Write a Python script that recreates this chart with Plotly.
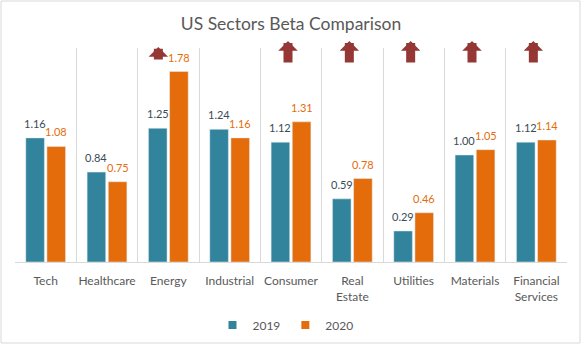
import plotly.graph_objects as go

categories = ["Tech", "Healthcare", "Energy", "Industrial", "Consumer",
              "Real<br>Estate", "Utilities", "Materials", "Financial<br>Services"]
beta_2019 = [1.16, 0.84, 1.25, 1.24, 1.12, 0.59, 0.29, 1.00, 1.12]
beta_2020 = [1.08, 0.75, 1.78, 1.16, 1.31, 0.78, 0.46, 1.05, 1.14]
series_names = ["2019", "2020"]

C19 = "#31849B"
C20 = "#E46C0A"
ARROW = "#953735"
FONT = "Lato"

W, H = 582, 345
ML, MR, MT, MB = 15, 15, 48, 83
BARGAP, GROUPGAP = 0.31, 0.12
cat_px = (W - ML - MR) / len(categories)
half_slot = cat_px * (1 - BARGAP) / 4  # center offset of each bar in a group

fig = go.Figure()
annotations = []
for k, (name, vals, col, lblcol) in enumerate([(series_names[0], beta_2019, C19, "#384B58"),
                                               (series_names[1], beta_2020, C20, C20)]):
    fig.add_trace(go.Bar(
        x=categories, y=vals, name=name, marker_color=col, showlegend=False,
        legendgroup=name,
    ))
    sign = -1 if k == 0 else 1
    for cat, v in zip(categories, vals):
        annotations.append(dict(
            x=cat, y=v, xref="x", yref="y", text=f"{v:.2f}", showarrow=False,
            xanchor="center", yanchor="bottom", xshift=sign * half_slot, yshift=6,
            font=dict(family=FONT, size=11, color=lblcol),
        ))
# legend proxies (small squares like the original)
for name, col in [(series_names[0], C19), (series_names[1], C20)]:
    fig.add_trace(go.Scatter(
        x=[None], y=[None], mode="markers", name=name, legendgroup=name,
        marker=dict(symbol="square", size=8, color=col), showlegend=True,
    ))

# up arrows where beta increased
for cat, a, b in zip(categories, beta_2019, beta_2020):
    if b > a:
        tall = b > 1.7
        annotations.append(dict(
            x=cat, xref="x", yref="paper",
            y=1.005 if tall else 1.0327,
            ax=0, ay=14 if tall else 23, axref="pixel", ayref="pixel",
            showarrow=True, arrowhead=1, arrowwidth=9, arrowsize=0.36,
            arrowcolor=ARROW, text="", xshift=-10 if tall else -3,
        ))

fig.update_layout(
    width=W, height=H,
    margin=dict(l=ML, r=MR, t=MT, b=MB, autoexpand=False),
    paper_bgcolor="white", plot_bgcolor="white",
    title=dict(text="US Sectors Beta Comparison", x=0.5, xanchor="center",
               y=1 - 24 / H, yanchor="middle",
               font=dict(family=FONT, size=17.5, color="#595959")),
    barmode="group", bargap=BARGAP, bargroupgap=GROUPGAP,
    showlegend=True,
    legend=dict(orientation="h", x=0.49, xanchor="center", y=-0.294, yanchor="middle",
                font=dict(family=FONT, size=12, color="#595959"),
                itemwidth=30, traceorder="normal"),
    xaxis=dict(type="category", tickson="boundaries", showgrid=True, automargin=False,
               gridcolor="#D9D9D9", gridwidth=1, showline=True, linecolor="#D9D9D9",
               ticks="", ticklabelstandoff=8, tickangle=0,
               tickfont=dict(family=FONT, size=12, color="#595959")),
    yaxis=dict(range=[0, 2], visible=False, showgrid=False, zeroline=False),
    annotations=annotations,
    shapes=[dict(type="rect", xref="paper", yref="paper",
                 x0=-14 / 552, x1=565 / 552, y0=(262 - 343) / 214, y1=(262 - 1) / 214,
                 line=dict(color="#D9D9D9", width=1), layer="below")],
)

fig.write_html("out.html")
